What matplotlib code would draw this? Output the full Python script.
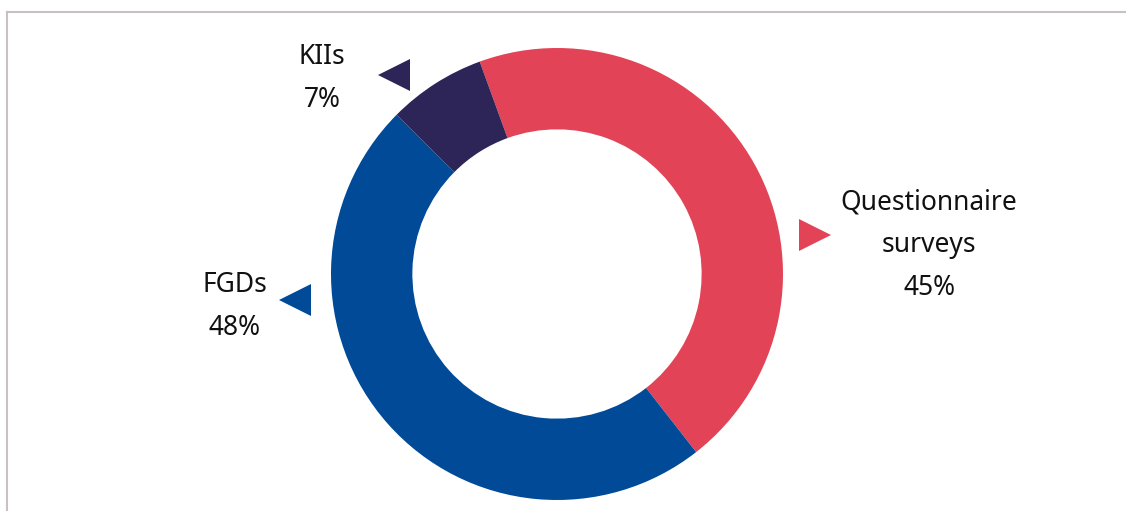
import matplotlib.pyplot as plt
from matplotlib.lines import Line2D

categories = ["Questionnaire\nsurveys", "FGDs", "KIIs"]
shares = [45, 48, 7]
colors = ["#E34356", "#004A98", "#2D2457"]

plt.rcParams['font.family'] = ['Noto Sans', 'DejaVu Sans']

W, H = 1126, 511
R = 226.0            # outer radius in pixels
cx, cy = 557, 274    # centre in pixels (y from top)

fig = plt.figure(figsize=(W / 100, H / 100), dpi=100)
ax = fig.add_axes([0, 0, 1, 1])

ax.pie(shares, colors=colors, startangle=110, counterclock=False,
       radius=1.0, wedgeprops=dict(width=0.36, linewidth=0))

# pie() resets the limits, so set them afterwards
ax.set_xlim(-cx / R, (W - cx) / R)
ax.set_ylim((cy - H) / R, cy / R)
ax.set_aspect('equal')
ax.axis('off')

# frame lines (top and left only visible)
frame_col = "#C9C0C0"
fig.add_artist(Line2D([7 / W, 1125 / W], [1 - 12.5 / H, 1 - 12.5 / H],
                      color=frame_col, lw=1.5, transform=fig.transFigure))
fig.add_artist(Line2D([7 / W, 7 / W], [0, 1 - 12.5 / H],
                      color=frame_col, lw=1.5, transform=fig.transFigure))


def px(x, y):
    return (x - cx) / R, (cy - y) / R


# label placement (pixels) : text centre x, first line y, marker x, marker y, marker
label_pos = [(929, 202, 815, 235, '>'),
             (235, 285, 295, 300, '<'),
             (322, 57, 394, 75, '<')]

line_gap = 43
for cat, val, col, (tx, ty, mx, my, mk) in zip(categories, shares, colors, label_pos):
    lines = cat.split("\n") + ["%d%%" % val]
    for i, ln in enumerate(lines):
        x, y = px(tx, ty + i * line_gap)
        ax.text(x, y, ln, ha='center', va='center', fontsize=19, color='#111111')
    x, y = px(mx, my)
    ax.plot([x], [y], marker=mk, markersize=23, color=col, markeredgewidth=0)

plt.savefig("out.png", dpi=100)
